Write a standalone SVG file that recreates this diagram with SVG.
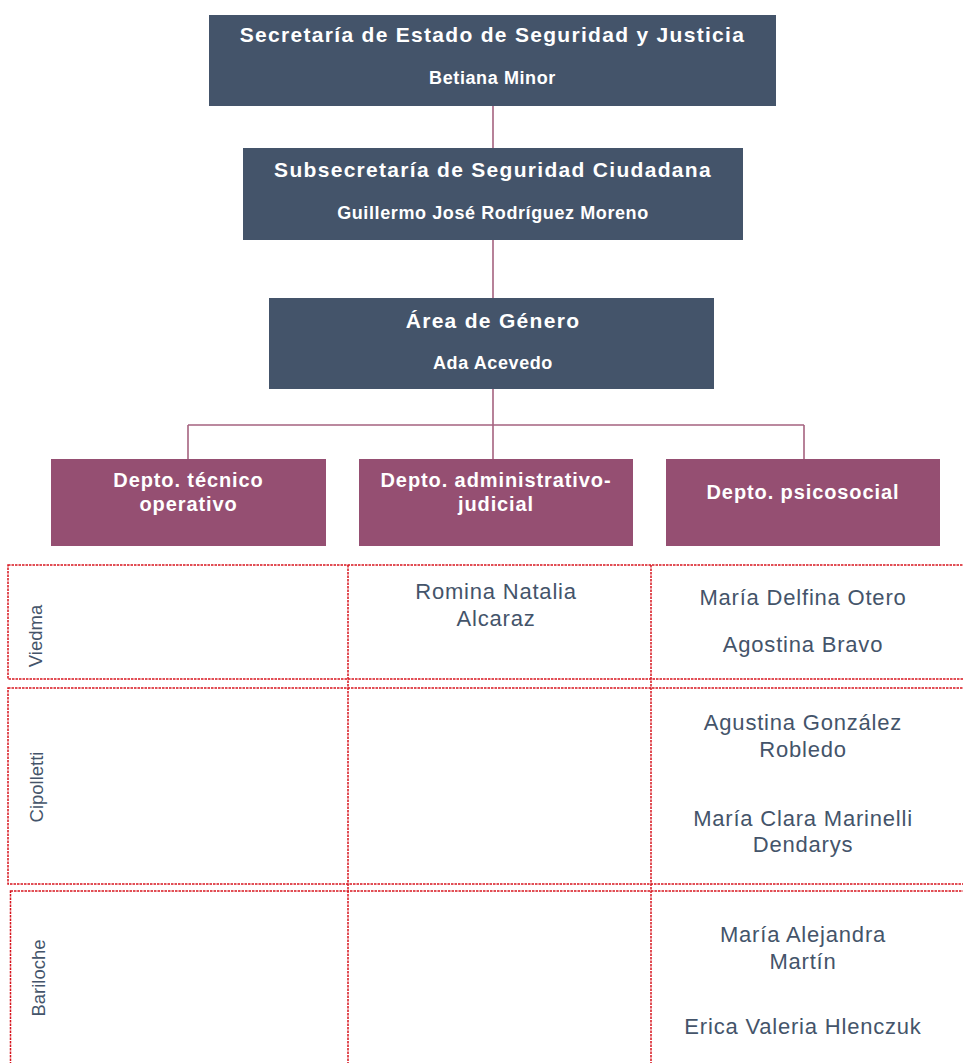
<svg xmlns="http://www.w3.org/2000/svg" width="963" height="1063" viewBox="0 0 963 1063">
<style>
.dark{fill:#44546A}
.dept{fill:#954F72}
.t1{font-family:"Liberation Sans",Arial,sans-serif;font-weight:bold;font-size:21px;letter-spacing:1.3px;fill:#fff;text-anchor:middle}
.t2{font-family:"Liberation Sans",Arial,sans-serif;font-weight:bold;font-size:18px;letter-spacing:0.6px;fill:#fff;text-anchor:middle}
.td{font-family:"Liberation Sans",Arial,sans-serif;font-weight:bold;font-size:20px;letter-spacing:0.9px;fill:#fff;text-anchor:middle}
.nm{font-family:"Liberation Sans",Arial,sans-serif;font-size:22px;letter-spacing:0.8px;fill:#44546A;text-anchor:middle}
.lb{font-family:"Liberation Sans",Arial,sans-serif;font-size:18.5px;fill:#44546A;text-anchor:middle}
.conn{stroke:#A5627F;stroke-width:1.6;fill:none}
.grid{stroke:#D7141E;stroke-width:1.5;stroke-dasharray:2.5 1;fill:none}
</style>
<rect width="963" height="1063" fill="#fff"/>
<g id="connectors">
<line class="conn" x1="493" y1="106" x2="493" y2="148"/>
<line class="conn" x1="493" y1="240" x2="493" y2="298"/>
<line class="conn" x1="493" y1="389" x2="493" y2="459"/>
<line class="conn" x1="188" y1="425" x2="804" y2="425" stroke-width="2.4"/>
<line class="conn" x1="188" y1="425" x2="188" y2="459"/>
<line class="conn" x1="804" y1="425" x2="804" y2="459"/>
</g>
<g id="n-secretaria">
<rect class="dark" x="209" y="15" width="567" height="91"/>
<text class="t1" x="492.5" y="42">Secretaría de Estado de Seguridad y Justicia</text>
<text class="t2" x="492.5" y="84">Betiana Minor</text>
</g>
<g id="n-subsecretaria">
<rect class="dark" x="243" y="148" width="500" height="92"/>
<text class="t1" x="493" y="177">Subsecretaría de Seguridad Ciudadana</text>
<text class="t2" x="493" y="219">Guillermo José Rodríguez Moreno</text>
</g>
<g id="n-genero">
<rect class="dark" x="269" y="298" width="445" height="91"/>
<text class="t1" x="493" y="328">Área de Género</text>
<text class="t2" x="493" y="369">Ada Acevedo</text>
</g>
<g id="n-tecnico">
<rect class="dept" x="51" y="459" width="275" height="87"/>
<text class="td" x="188.5" y="487">Depto. técnico</text>
<text class="td" x="188.5" y="511">operativo</text>
</g>
<g id="n-administrativo">
<rect class="dept" x="359" y="459" width="274" height="87"/>
<text class="td" x="496" y="487">Depto. administrativo-</text>
<text class="td" x="496" y="511">judicial</text>
</g>
<g id="n-psicosocial">
<rect class="dept" x="666" y="459" width="274" height="87"/>
<text class="td" x="803" y="499">Depto. psicosocial</text>
</g>
<g id="table">
<rect class="grid" x="8" y="565" width="970" height="114"/>
<rect class="grid" x="8" y="688" width="970" height="196"/>
<rect class="grid" x="10.5" y="891" width="970" height="200"/>
<line class="grid" x1="348" y1="565" x2="348" y2="1063"/>
<line class="grid" x1="651" y1="565" x2="651" y2="1063"/>
</g>
<g id="row-viedma">
<text class="lb" transform="translate(42 636) rotate(-90)">Viedma</text>
<text class="nm" x="496" y="599">Romina Natalia</text>
<text class="nm" x="496" y="626">Alcaraz</text>
<text class="nm" x="803" y="605">María Delfina Otero</text>
<text class="nm" x="803" y="652">Agostina Bravo</text>
</g>
<g id="row-cipolletti">
<text class="lb" transform="translate(43 787) rotate(-90)">Cipolletti</text>
<text class="nm" x="803" y="730">Agustina González</text>
<text class="nm" x="803" y="757">Robledo</text>
<text class="nm" x="803" y="826">María Clara Marinelli</text>
<text class="nm" x="803" y="852">Dendarys</text>
</g>
<g id="row-bariloche">
<text class="lb" transform="translate(45 978) rotate(-90)">Bariloche</text>
<text class="nm" x="803" y="942">María Alejandra</text>
<text class="nm" x="803" y="969">Martín</text>
<text class="nm" x="803" y="1034">Erica Valeria Hlenczuk</text>
</g>
</svg>
